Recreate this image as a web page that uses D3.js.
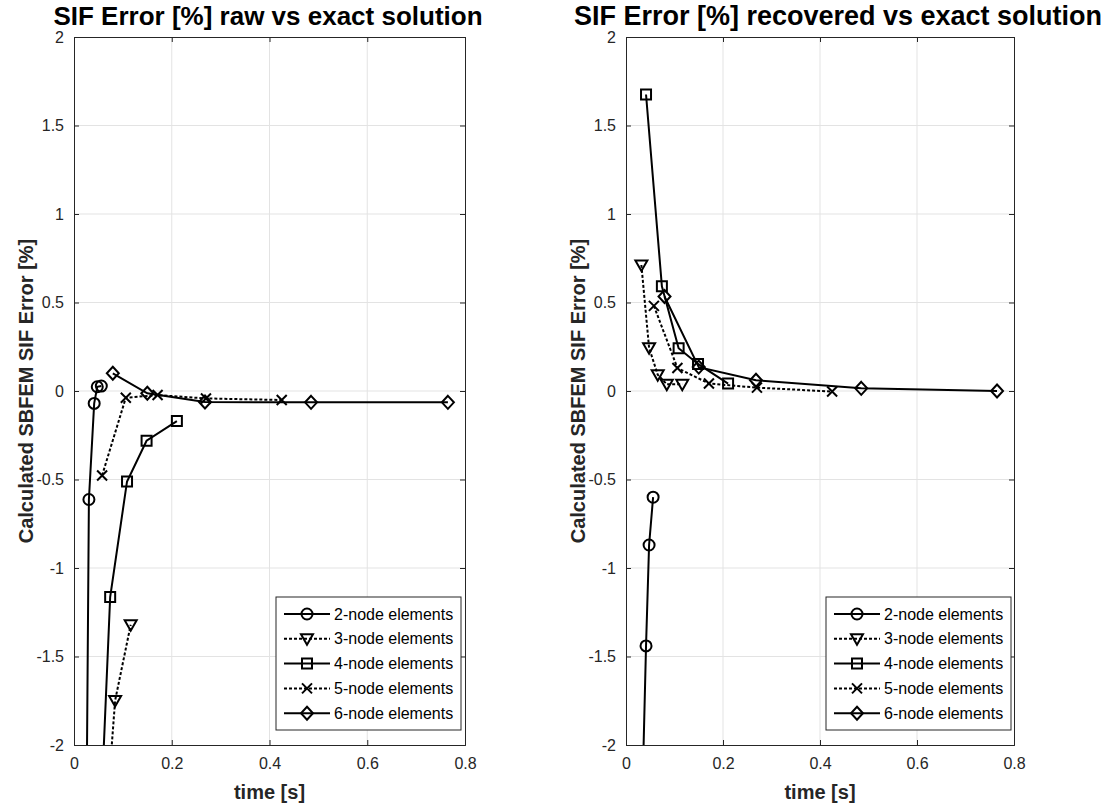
<!DOCTYPE html>
<meta charset="utf-8">
<script src="https://d3js.org/d3.v7.min.js"></script>
<style>
    body {margin: 0; background: #fff; font-family: 'Liberation Sans', Arial, sans-serif;}
    svg text {font-family: 'Liberation Sans', Arial, sans-serif;}
</style>
<body>
<svg width="1117" height="808"></svg>
<script>
    // computation time [s] for each element order
    var time2 = [0.020, 0.0305, 0.0413, 0.0476, 0.0559];
    var time3 = [0.0317, 0.0476, 0.0654, 0.0841, 0.116];
    var time4 = [0.0413, 0.074, 0.1085, 0.1485, 0.2105];
    var time5 = [0.0575, 0.106, 0.171, 0.27, 0.425];
    var time6 = [0.0794, 0.15, 0.268, 0.485, 0.765];

    // raw SIF error [%]
    var raw2 = [-4.4, -0.613, -0.07, 0.024, 0.028];
    var raw3 = [-9.0, -4.5, -2.44, -1.749, -1.321];
    var raw4 = [-3.28, -1.164, -0.511, -0.281, -0.170];
    var raw5 = [-0.477, -0.038, -0.023, -0.042, -0.051];
    var raw6 = [0.10, -0.013, -0.062, -0.064, -0.064];

    // recovered SIF error [%]
    var rec2 = [-6.0, -2.65, -1.44, -0.87, -0.60];
    var rec3 = [0.712, 0.244, 0.092, 0.038, 0.038];
    var rec4 = [1.675, 0.592, 0.242, 0.153, 0.042];
    var rec5 = [0.481, 0.13, 0.042, 0.019, -0.003];
    var rec6 = [0.534, 0.135, 0.061, 0.015, 0.0];

    var seriesNames = ["2-node elements", "3-node elements", "4-node elements", "5-node elements", "6-node elements"];
    var markers = ["circle", "triangle", "square", "cross", "diamond"];
    var dashed = [false, true, false, true, false];
    var xTicks = [0, 0.2, 0.4, 0.6, 0.8];
    var yTicks = [-2, -1.5, -1, -0.5, 0, 0.5, 1, 1.5, 2];

    var times = [time2, time3, time4, time5, time6];

    var svg = d3.select("svg");
    var plotTop = 37, plotBottom = 745;
    var axColor = "#262626";

    function markerPath(type) {
        var p = d3.path();
        if (type == "circle") {
            p.moveTo(5.5, 0); p.arc(0, 0, 5.5, 0, 2 * Math.PI);
        } else if (type == "square") {
            p.rect(-5, -5, 10, 10);
        } else if (type == "triangle") {
            p.moveTo(-6, -4.5); p.lineTo(6, -4.5); p.lineTo(0, 6); p.closePath();
        } else if (type == "diamond") {
            p.moveTo(0, -6.5); p.lineTo(6, 0); p.lineTo(0, 6.5); p.lineTo(-6, 0); p.closePath();
        } else if (type == "cross") {
            p.moveTo(-5, -5); p.lineTo(5, 5); p.moveTo(-5, 5); p.lineTo(5, -5);
        }
        return p.toString();
    }

    function drawPanel(id, left, right, titleText, titleX, titleSize, values, legendX) {
        var x = d3.scaleLinear().domain([0, 0.8]).range([left, right]);
        var y = d3.scaleLinear().domain([-2, 2]).range([plotBottom, plotTop]);
        var g = svg.append("g");

        g.append("defs").append("clipPath").attr("id", "clip" + id)
            .append("rect").attr("x", left).attr("y", plotTop)
            .attr("width", right - left).attr("height", plotBottom - plotTop);

        // grid
        g.append("g").selectAll("line").data(xTicks.slice(1, -1)).enter().append("line")
            .attr("x1", d => x(d)).attr("x2", d => x(d))
            .attr("y1", plotTop).attr("y2", plotBottom)
            .style("stroke", "#e3e3e3").style("stroke-width", 1);
        g.append("g").selectAll("line").data(yTicks.slice(1, -1)).enter().append("line")
            .attr("x1", left).attr("x2", right)
            .attr("y1", d => y(d)).attr("y2", d => y(d))
            .style("stroke", "#e3e3e3").style("stroke-width", 1);

        // axes, ticks inward
        var xa = g.append("g").attr("transform", "translate(0," + plotBottom + ")")
            .call(d3.axisBottom(x).tickValues(xTicks).tickSize(-5).tickPadding(13).tickFormat(d => String(d)));
        var ya = g.append("g").attr("transform", "translate(" + left + ",0)")
            .call(d3.axisLeft(y).tickValues(yTicks).tickSize(-5).tickPadding(10).tickFormat(d => String(d)));
        g.append("g").attr("transform", "translate(0," + plotTop + ")")
            .call(d3.axisTop(x).tickValues(xTicks).tickSize(-5).tickFormat(""));
        g.append("g").attr("transform", "translate(" + right + ",0)")
            .call(d3.axisRight(y).tickValues(yTicks).tickSize(-5).tickFormat(""));
        g.selectAll(".domain").style("stroke", axColor).style("stroke-width", 1);
        g.selectAll(".tick line").style("stroke", axColor);
        g.selectAll(".tick text").style("font-size", "16px").style("fill", axColor);
        xa.selectAll(".tick text").attr("dy", "0.71em");

        // series
        var plot = g.append("g").attr("clip-path", "url(#clip" + id + ")");
        values.forEach(function (vals, i) {
            var pts = times[i].map((t, j) => [t, vals[j]]);
            plot.append("path").datum(pts)
                .attr("d", d3.line().x(d => x(d[0])).y(d => y(d[1])))
                .style("fill", "none").style("stroke", "#000").style("stroke-width", 2)
                .style("stroke-dasharray", dashed[i] ? "3,2" : null);
            plot.selectAll(null).data(pts).enter().append("path")
                .attr("transform", d => "translate(" + x(d[0]) + "," + y(d[1]) + ")")
                .attr("d", markerPath(markers[i]))
                .style("fill", "none").style("stroke", "#000").style("stroke-width", 2);
        });

        // titles
        g.append("text").attr("x", titleX).attr("y", 25)
            .attr("text-anchor", "middle").style("font-size", titleSize + "px").style("font-weight", "bold")
            .style("fill", "#000").text(titleText);
        g.append("text").attr("x", (left + right) / 2).attr("y", 799)
            .attr("text-anchor", "middle").style("font-size", "20px").style("font-weight", "bold")
            .style("fill", axColor).text("time [s]");
        g.append("text").attr("transform", "translate(" + (left - 41) + "," + ((plotTop + plotBottom) / 2) + ") rotate(-90)")
            .attr("text-anchor", "middle").style("font-size", "20px").style("font-weight", "bold")
            .style("fill", axColor).text("Calculated SBFEM SIF Error [%]");

        // legend
        var lg = g.append("g").attr("transform", "translate(" + legendX + ",597)");
        lg.append("rect").attr("width", 185).attr("height", 133)
            .style("fill", "#fff").style("stroke", axColor).style("stroke-width", 1);
        seriesNames.forEach(function (name, i) {
            var ly = 17 + i * 24.8;
            lg.append("line").attr("x1", 8).attr("x2", 54).attr("y1", ly).attr("y2", ly)
                .style("stroke", "#000").style("stroke-width", 2)
                .style("stroke-dasharray", dashed[i] ? "3,2" : null);
            lg.append("path").attr("transform", "translate(31," + ly + ")")
                .attr("d", markerPath(markers[i]))
                .style("fill", "none").style("stroke", "#000").style("stroke-width", 2);
            lg.append("text").attr("x", 58).attr("y", ly).attr("dy", "0.35em")
                .style("font-size", "16px").style("fill", "#000").text(name);
        });
    }

    drawPanel("L", 74, 465, "SIF Error [%] raw vs exact solution", 268, 26,
        [raw2, raw3, raw4, raw5, raw6], 276);
    drawPanel("R", 626, 1014, "SIF Error [%] recovered vs exact solution", 838, 27,
        [rec2, rec3, rec4, rec5, rec6], 826);
</script>
</body>
